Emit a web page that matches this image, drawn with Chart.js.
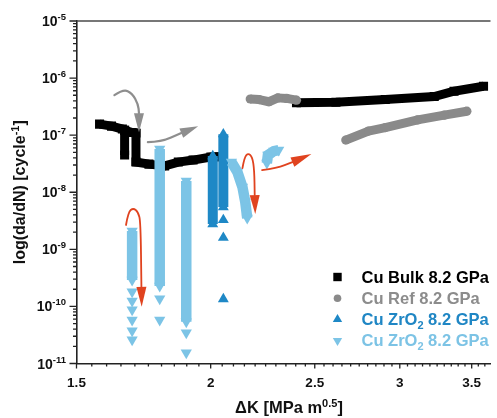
<!DOCTYPE html>
<html>
<head>
<meta charset="utf-8">
<title>Fatigue crack growth</title>
<script src="https://cdn.jsdelivr.net/npm/chart.js@4.4.1/dist/chart.umd.min.js"></script>
<style>
  html, body { margin: 0; padding: 0; background: #fff; overflow: hidden; }
  #wrap { width: 497px; height: 418px; }
</style>
</head>
<body>
<div id="wrap"><canvas id="fcg" width="497" height="418"></canvas></div>
<script>
// axis ticks
const dkTicks = [1.5, 2, 2.5, 3, 3.5];
const rateDecades = [-11, -10, -9, -8, -7, -6, -5];

// Cu Bulk 8.2 GPa  [dK, da/dN]
const bulkLow = [
  [1.576, 1.56e-7], [1.617, 1.44e-7], [1.655, 1.28e-7], [1.663, 1.22e-7],
  [1.663, 4.48e-8], [1.663, 1.22e-7], [1.690, 1.11e-7], [1.704, 1.09e-7],
  [1.704, 3.38e-8], [1.752, 3.11e-8], [1.812, 2.90e-8], [1.866, 3.38e-8],
  [1.926, 3.66e-8], [2.001, 4.13e-8], [2.039, 4.20e-8]
];
const bulkHigh = [
  [2.404, 3.69e-7], [2.616, 3.76e-7], [2.908, 4.20e-7], [3.230, 4.76e-7],
  [3.370, 5.89e-7], [3.590, 7.20e-7]
];

// Cu Ref 8.2 GPa
const refLow = [
  [2.177, 4.30e-7], [2.219, 4.20e-7], [2.266, 3.85e-7], [2.310, 4.50e-7],
  [2.354, 4.40e-7], [2.404, 4.10e-7]
];
const refHigh = [
  [2.672, 8.19e-8], [2.805, 1.18e-7], [2.908, 1.36e-7], [3.117, 1.85e-7],
  [3.300, 2.24e-7], [3.464, 2.63e-7]
];

// Cu ZrO2 8.2 GPa (up triangles)
const zrUpColA = [[2.009, 4.30e-8], [2.009, 2.78e-9]];
const zrUpColB = [[2.055, 1.04e-7], [2.055, 5.51e-9]];
const zrUpDots = [[2.055, 3.27e-9], [2.055, 1.60e-9], [2.055, 1.34e-10]];

// Cu ZrO2 8.2 GPa (down triangles)
const zrDownCol1 = [[1.690, 2.10e-9], [1.690, 2.91e-10]];
const zrDownCol2 = [[1.793, 5.70e-8], [1.793, 2.29e-10]];
const zrDownCol3 = [[1.898, 1.57e-8], [1.898, 5.37e-11]];
const zrDownSlant = [
  [2.091, 3.38e-8], [2.118, 2.26e-8], [2.141, 1.23e-8], [2.154, 6.74e-9], [2.163, 3.54e-9]
];
const zrDownPatch = [[2.256, 3.24e-8], [2.261, 4.48e-8], [2.290, 5.26e-8], [2.314, 5.47e-8]];
const zrDownDots = [
  [1.690, 1.80e-10], [1.690, 1.25e-10], [1.690, 8.7e-11], [1.690, 5.8e-11],
  [1.690, 3.73e-11], [1.690, 2.60e-11], [1.793, 1.36e-10], [1.793, 5.8e-11],
  [1.898, 3.45e-11], [1.898, 1.54e-11]
];

// annotation arrows, path ends at the head base, tip is the arrow point
const arrows = [
  { color: '#8e8e8e', width: 2.2, head: 10,
    path: [[1.627, 5.02e-7], [1.658, 6.39e-7], [1.690, 5.44e-7], [1.712, 3.49e-7], [1.715, 2.43e-7]],
    tip: [1.715, 1.13e-7] },
  { color: '#8e8e8e', width: 2.2, head: 10,
    path: [[1.748, 7.55e-8], [1.797, 7.55e-8], [1.878, 1.09e-7]],
    tip: [1.947, 1.44e-7] },
  { color: '#e0431f', width: 1.8, head: 10,
    path: [[1.668, 2.67e-9], [1.676, 4.51e-9], [1.694, 5.29e-9], [1.712, 4.51e-9], [1.721, 3.01e-9], [1.724, 2.20e-10]],
    tip: [1.725, 9.82e-11] },
  { color: '#e0431f', width: 1.8, head: 10,
    path: [[2.141, 2.65e-8], [2.150, 4.13e-8], [2.168, 4.85e-8], [2.187, 4.13e-8], [2.196, 2.45e-8], [2.198, 8.94e-9]],
    tip: [2.2005, 4.16e-9] },
  { color: '#e0431f', width: 1.8, head: 10,
    path: [[2.233, 2.45e-8], [2.305, 2.65e-8], [2.383, 3.38e-8]],
    tip: [2.482, 4.66e-8] }
];

const chartFont = '"Liberation Sans", Arial, Helvetica, sans-serif';

const look = {
  bulk:   { color: '#000000', text: '#000000', point: 'rect',     rot: 0,   r: 6.4, band: 9,  legendR: 4.2 },
  ref:    { color: '#8a8a8a', text: '#8c8c8c', point: 'circle',   rot: 0,   r: 4.6, band: 9,  legendR: 3.8 },
  zrUp:   { color: '#1e88c6', text: '#1f86c4', point: 'triangle', rot: 0,   r: 6.3, band: 10, legendR: 5.4 },
  zrDown: { color: '#7cc4e6', text: '#7cc3e5', point: 'triangle', rot: 180, r: 6.5, band: 10.5, legendR: 5.4 }
};

const legendRows = [
  { key: 'bulk',   parts: [['Cu Bulk 8.2 GPa', 16.5]] },
  { key: 'ref',    parts: [['Cu Ref 8.2 GPa', 16.5]] },
  { key: 'zrUp',   parts: [['Cu ZrO', 16.5], ['2', 11, -4], [' 8.2 GPa', 16.5]] },
  { key: 'zrDown', parts: [['Cu ZrO', 16.5], ['2', 11, -4], [' 8.2 GPa', 16.5]] }
];

function toPoints(list) {
  return list.map(p => ({ x: p[0], y: p[1] }));
}

function band(list, key, order) {
  const st = look[key];
  return {
    data: toPoints(list),
    showLine: true,
    borderColor: st.color,
    backgroundColor: st.color,
    borderWidth: st.band,
    borderCapStyle: 'butt',
    borderJoinStyle: key === 'ref' ? 'round' : 'miter',
    pointStyle: st.point,
    pointRotation: st.rot,
    pointRadius: st.r,
    pointBorderWidth: 0,
    tension: 0,
    order: order
  };
}

function dots(list, key, order) {
  const st = look[key];
  return {
    data: toPoints(list),
    showLine: false,
    backgroundColor: st.color,
    borderColor: st.color,
    pointStyle: st.point,
    pointRotation: st.rot,
    pointRadius: st.r,
    pointBorderWidth: 0,
    order: order
  };
}

// text with super/subscript pieces: [text, size, raise]
function drawRich(ctx, parts, x, y, align) {
  let w = 0;
  parts.forEach(p => {
    ctx.font = 'bold ' + p[1] + 'px ' + chartFont;
    w += ctx.measureText(p[0]).width;
  });
  let cx = align === 'right' ? x - w : (align === 'center' ? x - w / 2 : x);
  ctx.textAlign = 'left';
  ctx.textBaseline = 'alphabetic';
  parts.forEach(p => {
    ctx.font = 'bold ' + p[1] + 'px ' + chartFont;
    ctx.fillText(p[0], cx, y - (p[2] || 0));
    cx += ctx.measureText(p[0]).width;
  });
}

function marker(ctx, kind, rot, x, y, r) {
  ctx.beginPath();
  if (kind === 'rect') {
    ctx.rect(x - r, y - r, 2 * r, 2 * r);
  } else if (kind === 'circle') {
    ctx.arc(x, y, r, 0, Math.PI * 2);
  } else {
    const s = rot ? -1 : 1;
    ctx.moveTo(x, y - s * r);
    ctx.lineTo(x + 0.866 * r, y + s * 0.5 * r);
    ctx.lineTo(x - 0.866 * r, y + s * 0.5 * r);
    ctx.closePath();
  }
  ctx.fill();
}

const arrowPlugin = {
  id: 'arrows',
  afterDatasetsDraw(chart) {
    const ctx = chart.ctx, xs = chart.scales.x, ys = chart.scales.y;
    arrows.forEach(a => {
      const pts = a.path.map(p => [xs.getPixelForValue(p[0]), ys.getPixelForValue(p[1])]);
      const tip = [xs.getPixelForValue(a.tip[0]), ys.getPixelForValue(a.tip[1])];
      ctx.save();
      ctx.strokeStyle = a.color;
      ctx.fillStyle = a.color;
      ctx.lineWidth = a.width;
      ctx.lineCap = 'round';
      ctx.beginPath();
      ctx.moveTo(pts[0][0], pts[0][1]);
      for (let i = 1; i < pts.length - 1; i++) {
        const mx = (pts[i][0] + pts[i + 1][0]) / 2, my = (pts[i][1] + pts[i + 1][1]) / 2;
        ctx.quadraticCurveTo(pts[i][0], pts[i][1], mx, my);
      }
      const last = pts[pts.length - 1];
      ctx.lineTo(last[0], last[1]);
      ctx.stroke();
      // head
      const ang = Math.atan2(tip[1] - last[1], tip[0] - last[0]);
      const hx = Math.cos(ang + Math.PI / 2) * a.head / 2, hy = Math.sin(ang + Math.PI / 2) * a.head / 2;
      ctx.beginPath();
      ctx.moveTo(tip[0], tip[1]);
      ctx.lineTo(last[0] + hx, last[1] + hy);
      ctx.lineTo(last[0] - hx, last[1] - hy);
      ctx.closePath();
      ctx.fill();
      ctx.restore();
    });
  }
};

const framePlugin = {
  id: 'frame',
  afterDraw(chart) {
    const ctx = chart.ctx, area = chart.chartArea;
    const xs = chart.scales.x, ys = chart.scales.y;
    ctx.save();

    // top frame line
    ctx.strokeStyle = '#4a4a4a';
    ctx.lineWidth = 1.5;
    ctx.beginPath();
    ctx.moveTo(area.left, area.top);
    ctx.lineTo(area.right, area.top);
    ctx.stroke();

    // x ticks every 0.05, labelled every 0.5
    ctx.strokeStyle = '#222';
    ctx.lineWidth = 1.3;
    ctx.beginPath();
    for (let i = 30; i <= 72; i++) {
      const px = xs.getPixelForValue(i / 20);
      if (px > area.right) break;
      const len = i % 10 === 0 ? 5 : 3;
      ctx.moveTo(px, area.bottom);
      ctx.lineTo(px, area.bottom + len);
    }
    // y ticks, log minor
    rateDecades.forEach(e => {
      for (let k = 1; k <= 9; k++) {
        if (e === -5 && k > 1) break;
        const py = ys.getPixelForValue(k * Math.pow(10, e));
        const len = k === 1 ? 7 : 3.5;
        ctx.moveTo(area.left - len, py);
        ctx.lineTo(area.left, py);
      }
    });
    ctx.stroke();

    ctx.fillStyle = '#111';
    dkTicks.forEach(v => {
      drawRich(ctx, [[String(v), 13.5]], xs.getPixelForValue(v), area.bottom + 23, 'center');
    });
    rateDecades.forEach(e => {
      const py = ys.getPixelForValue(Math.pow(10, e));
      drawRich(ctx, [['10', 14], [String(e), 9.5, 6]], 66, py + 5, 'right');
    });

    // axis titles
    drawRich(ctx, [['\u0394K [MPa m', 16.5], ['0.5', 11, 6], [']', 16.5]], 289, 413, 'center');
    ctx.save();
    ctx.translate(25, (area.top + area.bottom) / 2);
    ctx.rotate(-Math.PI / 2);
    drawRich(ctx, [['log(da/dN) [cycle', 16], ['-1', 11, 6], [']', 16]], 0, 0, 'center');
    ctx.restore();

    // legend
    const tx = area.right - 129, mx = area.right - 153;
    legendRows.forEach((row, i) => {
      const st = look[row.key];
      const cy = area.bottom - 86.5 + i * 21.2;
      ctx.fillStyle = st.color;
      marker(ctx, st.point, st.rot, mx, cy, st.legendR);
      ctx.fillStyle = st.text;
      drawRich(ctx, row.parts, tx, cy + 5.5, 'left');
    });
    ctx.restore();
  }
};

const datasets = [
  band(zrDownCol1, 'zrDown', 0), band(zrDownCol2, 'zrDown', 0), band(zrDownCol3, 'zrDown', 0),
  band(zrDownSlant, 'zrDown', 0), band(zrDownPatch, 'zrDown', 0), dots(zrDownDots, 'zrDown', 0),
  band(zrUpColA, 'zrUp', 1), band(zrUpColB, 'zrUp', 1), dots(zrUpDots, 'zrUp', 1),
  band(refLow, 'ref', 2), band(refHigh, 'ref', 2),
  band(bulkLow, 'bulk', 3), band(bulkHigh, 'bulk', 3)
];

const axisBorder = { display: true, color: '#222', width: 1.6 };

new Chart(document.getElementById('fcg'), {
  type: 'scatter',
  data: { datasets: datasets },
  options: {
    responsive: false,
    animation: false,
    events: [],
    layout: { padding: { top: 21, right: 0, bottom: 0, left: 0 } },
    plugins: { legend: { display: false }, tooltip: { enabled: false } },
    scales: {
      x: {
        type: 'logarithmic', min: 1.5, max: 3.644, position: 'bottom',
        grid: { display: false }, border: axisBorder, ticks: { display: false },
        afterFit: s => { s.height = 54.5; }
      },
      y: {
        type: 'logarithmic', min: 1e-11, max: 1e-5, position: 'left',
        grid: { display: false }, border: axisBorder, ticks: { display: false },
        afterFit: s => { s.width = 76.5; }
      }
    }
  },
  plugins: [arrowPlugin, framePlugin]
});
</script>
</body>
</html>
